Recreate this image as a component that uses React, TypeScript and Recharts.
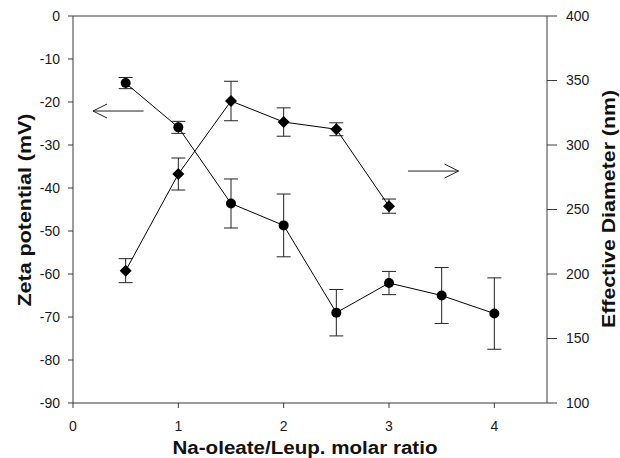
import React from 'react';
import { ComposedChart, Scatter, XAxis, YAxis, ErrorBar, ReferenceLine } from 'recharts';

// Na-oleate / leuprolide molar ratio for each measurement
const ratios = [0.5, 1, 1.5, 2, 2.5, 3, 3.5, 4];
// Zeta potential (mV) and its standard deviation
const zetaValues = [-15.6, -25.9, -43.6, -48.7, -69.0, -62.1, -65.0, -69.2];
const zetaErrors = [1.3, 1.4, 5.7, 7.3, 5.4, 2.7, 6.5, 8.3];

// Effective diameter (nm) measured up to ratio 3
const diameterRatios = [0.5, 1, 1.5, 2, 2.5, 3];
const diameterValues = [202.6, 277.5, 334.1, 317.8, 312.2, 252.6];
const diameterErrors = [9.3, 12.4, 15.3, 11.0, 5.0, 5.5];

const xTicks = [0, 1, 2, 3, 4];
const zetaTicks = [-90, -80, -70, -60, -50, -40, -30, -20, -10, 0];
const diameterTicks = [100, 150, 200, 250, 300, 350, 400];

const zetaData = ratios.map((x, i) => ({ x, y: zetaValues[i], e: zetaErrors[i] }));
const diameterData = diameterRatios.map((x, i) => ({ x, y: diameterValues[i], e: diameterErrors[i] }));

const FONT = '"Liberation Sans", Arial, sans-serif';
const AXIS = '#3a3a3a';

const CircleDot = (props: any) => {
  const { cx, cy } = props;
  if (cx == null || cy == null) return null;
  return <circle cx={cx} cy={cy} r={5} fill="#000" />;
};

const DiamondDot = (props: any) => {
  const { cx, cy } = props;
  if (cx == null || cy == null) return null;
  const h = 6;
  return <path d={`M${cx},${cy - h}L${cx + h},${cy}L${cx},${cy + h}L${cx - h},${cy}Z`} fill="#000" />;
};

// Line with an open arrowhead at its second end point
const ArrowShape = (props: any) => {
  const { x1, y1, x2, y2 } = props;
  if ([x1, y1, x2, y2].some((v) => v == null || Number.isNaN(v))) return null;
  const dir = x2 > x1 ? -1 : 1;
  return (
    <g stroke="#222" strokeWidth={1} fill="none">
      <line x1={x1} y1={y1} x2={x2} y2={y2} />
      <polyline points={`${x2 + dir * 14},${y2 - 7} ${x2},${y2} ${x2 + dir * 14},${y2 + 7}`} />
    </g>
  );
};

const Title = ({ x, y, angle, length, text }: { x: number; y: number; angle?: number; length: number; text: string }) => (
  <text
    x={x}
    y={y}
    textAnchor="middle"
    transform={angle ? `rotate(${angle}, ${x}, ${y})` : undefined}
    fontFamily={FONT}
    fontWeight="bold"
    fontSize={18}
    textLength={length}
    lengthAdjust="spacingAndGlyphs"
    fill="#111"
  >
    {text}
  </text>
);

const tickStyle = { fontFamily: FONT, fontSize: 14, fill: '#1a1a1a' };

export default function App() {
  return (
    <div style={{ position: 'absolute', left: 0, top: 0, width: 620, height: 458, background: '#fff' }}>
      <ComposedChart width={620} height={458} margin={{ top: 16, right: 0, bottom: 0, left: 0 }}>
        <XAxis
          type="number"
          dataKey="x"
          domain={[0, 4.5]}
          ticks={xTicks}
          tickSize={5}
          tickMargin={13}
          allowDataOverflow
          stroke={AXIS}
          tick={tickStyle}
          height={55}
        />
        <YAxis
          yAxisId="z"
          type="number"
          dataKey="y"
          orientation="left"
          domain={[-90, 0]}
          ticks={zetaTicks}
          tickSize={5}
          tickMargin={8}
          width={73}
          stroke={AXIS}
          tick={tickStyle}
          allowDataOverflow
        />
        <YAxis
          yAxisId="d"
          type="number"
          dataKey="y"
          orientation="right"
          domain={[100, 400]}
          ticks={diameterTicks}
          tickSize={10}
          tickMargin={9}
          width={73}
          stroke={AXIS}
          tick={tickStyle}
          allowDataOverflow
        />
        <ReferenceLine yAxisId="z" y={0} stroke={AXIS} strokeWidth={1} />
        <ReferenceLine
          yAxisId="z"
          segment={[{ x: 0.67, y: -22.1 }, { x: 0.19, y: -22.1 }]}
          shape={ArrowShape}
        />
        <ReferenceLine
          yAxisId="d"
          segment={[{ x: 3.18, y: 279.8 }, { x: 3.66, y: 279.8 }]}
          shape={ArrowShape}
        />
        <Scatter
          yAxisId="z"
          data={zetaData}
          line={{ stroke: '#000', strokeWidth: 1 }}
          lineType="joint"
          shape={CircleDot}
          isAnimationActive={false}
        >
          <ErrorBar dataKey="e" direction="y" width={7} stroke="#222" strokeWidth={1} />
        </Scatter>
        <Scatter
          yAxisId="d"
          data={diameterData}
          line={{ stroke: '#000', strokeWidth: 1 }}
          lineType="joint"
          shape={DiamondDot}
          isAnimationActive={false}
        >
          <ErrorBar dataKey="e" direction="y" width={7} stroke="#222" strokeWidth={1} />
        </Scatter>
      </ComposedChart>
      {/* axis titles */}
      <svg
        width={620}
        height={458}
        style={{ position: 'absolute', left: 0, top: 0, pointerEvents: 'none' }}
      >
        <Title x={305} y={454} length={265} text="Na-oleate/Leup. molar ratio" />
        <Title x={31} y={210} angle={-90} length={193} text="Zeta potential (mV)" />
        <Title x={615} y={209} angle={-90} length={238} text="Effective Diameter (nm)" />
      </svg>
    </div>
  );
}
